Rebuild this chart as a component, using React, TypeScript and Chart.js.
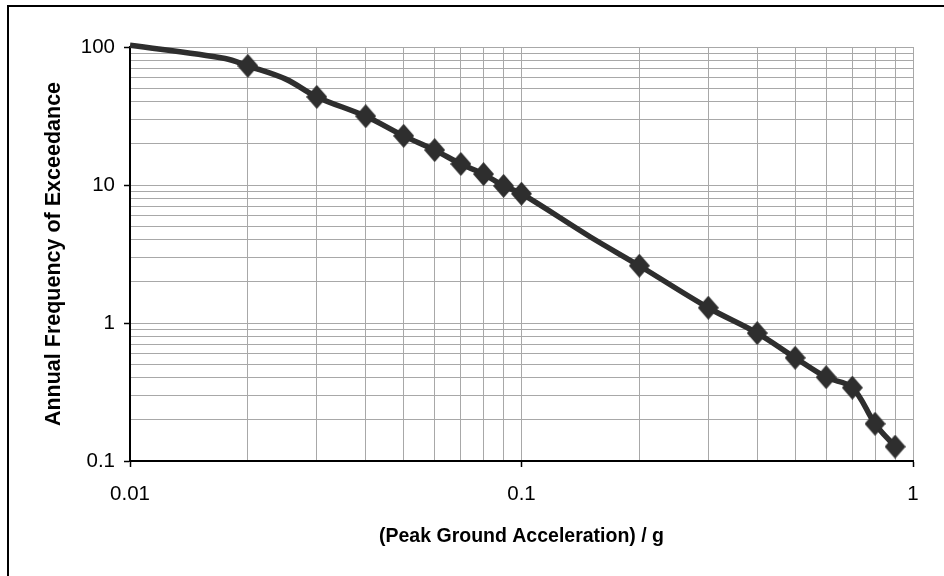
import { useEffect, useRef } from 'react';
import { Chart, registerables } from 'chart.js';

Chart.register(...registerables);

// ---- data ----
const pga = [0.01, 0.0175, 0.02, 0.025, 0.03, 0.04, 0.05, 0.06, 0.07, 0.08, 0.09, 0.1, 0.15, 0.2, 0.3, 0.4, 0.5, 0.6, 0.7, 0.8, 0.9];
const frequency = [103, 82.5, 73, 58.5, 43.5, 31.5, 22.7, 17.9, 14.2, 12.0, 9.85, 8.65, 4.2, 2.6, 1.29, 0.845, 0.56, 0.405, 0.34, 0.186, 0.127];
const marked = [false, false, true, false, true, true, true, true, true, true, true, true, false, true, true, true, true, true, true, true, true];

const xTickLabels = ['0.01', '0.1', '1'];
const yTickLabels = ['0.1', '1', '10', '100'];
const xTitle = '(Peak Ground Acceleration) / g';
const yTitle = 'Annual Frequency of Exceedance';

const FONT = "'Liberation Sans', Arial, Helvetica, sans-serif";

function decadeTicks(labels: string[]): number[] {
  const majors = labels.map(Number);
  const vals: number[] = [];
  for (let i = 0; i < majors.length - 1; i++) {
    for (let m = 1; m <= 9; m++) vals.push(parseFloat((majors[i] * m).toPrecision(6)));
  }
  vals.push(majors[majors.length - 1]);
  return vals;
}

function majorLabel(labels: string[], v: number): string | null {
  for (const l of labels) {
    const n = Number(l);
    if (Math.abs(n - v) <= n * 1e-6) return l;
  }
  return null;
}

function makeDiamond(): HTMLCanvasElement {
  const c = document.createElement('canvas');
  c.width = 21;
  c.height = 24;
  const g = c.getContext('2d')!;
  g.fillStyle = '#2e2e2e';
  g.beginPath();
  g.moveTo(10.5, 0);
  g.lineTo(21, 12);
  g.lineTo(10.5, 24);
  g.lineTo(0, 12);
  g.closePath();
  g.fill();
  return c;
}

export default function App() {
  const ref = useRef<HTMLCanvasElement | null>(null);

  useEffect(() => {
    if (!ref.current) return;
    const diamond = makeDiamond();
    const gridColor = '#a8a8a8';

    const chart = new Chart(ref.current, {
      type: 'line',
      data: {
        datasets: [
          {
            data: pga.map((x, i) => ({ x, y: frequency[i] })),
            borderColor: '#2e2e2e',
            backgroundColor: '#2e2e2e',
            borderWidth: 5.5,
            tension: 0.35,
            fill: false,
            clip: false as any,
            pointStyle: diamond as any,
            pointRadius: marked.map((m) => (m ? 10 : 0)),
            pointHoverRadius: marked.map((m) => (m ? 10 : 0)),
            pointBorderWidth: 0,
          },
        ],
      },
      options: {
        responsive: false,
        animation: false,
        devicePixelRatio: 1,
        events: [],
        layout: { padding: { left: 41, top: 47, right: 31, bottom: 28 } },
        plugins: { legend: { display: false }, tooltip: { enabled: false } },
        scales: {
          x: {
            type: 'logarithmic',
            min: 0.01,
            max: 1,
            afterBuildTicks: (s: any) => {
              s.ticks = decadeTicks(xTickLabels).map((v) => ({ value: v }));
            },
            afterFit: (s: any) => {
              s.height = 87;
            },
            ticks: {
              autoSkip: false,
              maxRotation: 0,
              padding: 15,
              color: '#000',
              font: { family: FONT, size: 20.5 },
              callback: (v: any) => majorLabel(xTickLabels, Number(v)) ?? '',
            },
            grid: {
              color: gridColor,
              lineWidth: 1,
              drawTicks: true,
              tickLength: 6,
              tickColor: (ctx: any) => (ctx.tick && majorLabel(xTickLabels, ctx.tick.value) ? '#000' : 'rgba(0,0,0,0)'),
              tickWidth: 1.5,
            },
            border: { display: true, color: '#000', width: 2 },
            title: {
              display: true,
              text: xTitle,
              color: '#000',
              padding: 0,
              font: { family: FONT, size: 19.5, weight: 'bold' },
            },
          },
          y: {
            type: 'logarithmic',
            min: 0.1,
            max: 100,
            afterBuildTicks: (s: any) => {
              s.ticks = decadeTicks(yTickLabels).map((v) => ({ value: v }));
            },
            afterFit: (s: any) => {
              s.width = 89;
            },
            ticks: {
              autoSkip: false,
              padding: 9,
              color: '#000',
              font: { family: FONT, size: 20.5 },
              callback: (v: any) => majorLabel(yTickLabels, Number(v)) ?? '',
            },
            grid: {
              color: gridColor,
              lineWidth: 1,
              drawTicks: true,
              tickLength: 6,
              tickColor: (ctx: any) => (ctx.tick && majorLabel(yTickLabels, ctx.tick.value) ? '#000' : 'rgba(0,0,0,0)'),
              tickWidth: 1.5,
            },
            border: { display: true, color: '#000', width: 2 },
            title: {
              display: true,
              text: yTitle,
              color: '#000',
              padding: 0,
              font: { family: FONT, size: 21.5, weight: 'bold' },
            },
          },
        },
      },
    } as any);

    return () => chart.destroy();
  }, []);

  return (
    <div style={{ position: 'fixed', left: 0, top: 0, width: 944, height: 576, overflow: 'hidden', background: '#fff' }}>
      <div
        style={{
          position: 'absolute',
          left: 7,
          top: 5,
          width: 1200,
          height: 900,
          border: '2px solid #000',
          boxSizing: 'border-box',
        }}
      />
      <canvas ref={ref} width={944} height={576} style={{ position: 'absolute', left: 0, top: 0, width: 944, height: 576 }} />
    </div>
  );
}
